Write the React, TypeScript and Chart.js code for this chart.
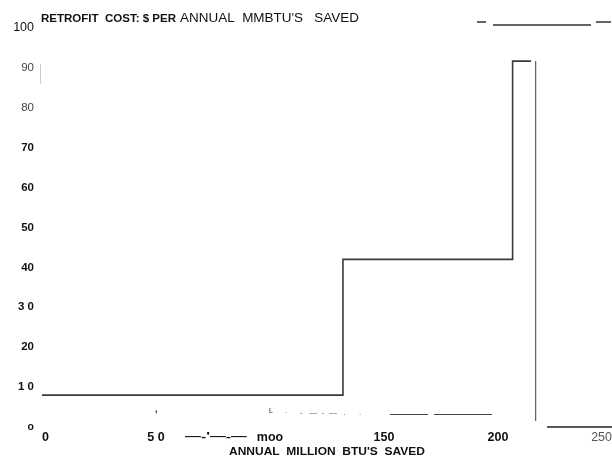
import React, { useEffect, useRef } from "react";
import { Chart, registerables } from "chart.js";

Chart.register(...registerables);

// ---- data ----
const stepSaved = [0, 132, 206.4, 214.5];
const stepCost = [8.0, 42.0, 91.7, 91.7];
const dropSaved = [216.5, 216.5];
const dropCost = [91.7, 1.5];
const tailSaved = [221.5, 250];
const tailCost = [0, 0];

const xTickValues = [0, 50, 100, 150, 200, 250];
const xTickLabels = ["0", "5 0", "moo", "150", "200", "250"];
const yTickValues = [0, 10, 20, 30, 40, 50, 60, 70, 80, 90, 100];
const yTickLabels = ["o", "1 0", "20", "3 0", "40", "50", "60", "70", "80", "90", "100"];

const titleBold = "RETROFIT  COST: $ PER";
const titleRest = "ANNUAL  MMBTU'S   SAVED";
const xAxisTitle = "ANNUAL  MILLION  BTU'S  SAVED";
const scanNoise = "\u2014-'\u2014-\u2014";

const FONT = "'Liberation Sans', Arial, sans-serif";

function drawStretched(
  ctx: CanvasRenderingContext2D,
  text: string,
  font: string,
  x: number,
  y: number,
  width: number,
  color: string
) {
  ctx.save();
  ctx.font = font;
  ctx.fillStyle = color;
  ctx.textBaseline = "middle";
  ctx.textAlign = "left";
  const w = ctx.measureText(text).width;
  ctx.translate(x, y);
  ctx.scale(width / w, 1);
  ctx.fillText(text, 0, 0);
  ctx.restore();
}

const decorPlugin = {
  id: "decor",
  afterDraw(chart: any) {
    const ctx: CanvasRenderingContext2D = chart.ctx;
    // title
    drawStretched(ctx, titleBold, `bold 10.5px ${FONT}`, 41, 19, 135, "#111");
    drawStretched(ctx, titleRest, `13px ${FONT}`, 180, 18, 179, "#111");
    // x axis title
    drawStretched(ctx, xAxisTitle, `bold 10.5px ${FONT}`, 229, 452, 196, "#111");
    // scan noise near the axis labels
    drawStretched(ctx, scanNoise, `bold 11px ${FONT}`, 185, 437, 62, "#111");
    ctx.save();
    ctx.fillStyle = "#222";
    ctx.font = `bold 9px ${FONT}`;
    ctx.textBaseline = "middle";
    ctx.fillText(",", 155, 410);
    ctx.font = `7px ${FONT}`;
    ctx.fillText("L", 269, 411);
    ctx.fillStyle = "#555";
    ctx.font = `8px ${FONT}`;
    ctx.fillText(".", 285, 411);
    ctx.fillText("-   \u2014  -  \u2014   .      .", 300, 413);
    ctx.restore();
    ctx.save();
    ctx.strokeStyle = "#444";
    ctx.lineWidth = 1;
    ctx.beginPath();
    ctx.moveTo(390, 414.5);
    ctx.lineTo(428, 414.5);
    ctx.moveTo(434, 414.5);
    ctx.lineTo(492, 414.5);
    ctx.stroke();
    // top-right stray marks
    ctx.strokeStyle = "#333";
    ctx.lineWidth = 1.3;
    ctx.beginPath();
    ctx.moveTo(477, 22);
    ctx.lineTo(486, 22);
    ctx.moveTo(493, 25);
    ctx.lineTo(591, 25);
    ctx.moveTo(596, 22);
    ctx.lineTo(611, 22);
    ctx.stroke();
    // faint mark near 90
    ctx.strokeStyle = "#ccc";
    ctx.lineWidth = 1;
    ctx.beginPath();
    ctx.moveTo(40.5, 64);
    ctx.lineTo(40.5, 84);
    ctx.stroke();
    ctx.restore();
  },
};

export default function App() {
  const ref = useRef<HTMLCanvasElement>(null);

  useEffect(() => {
    document.body.style.margin = "0";
    const canvas = ref.current!;
    const chart = new Chart(canvas, {
      type: "line",
      data: {
        datasets: [
          {
            data: stepSaved.map((x, i) => ({ x, y: stepCost[i] })),
            stepped: "before",
            borderColor: "#3a3a3a",
            borderWidth: 1.6,
            pointRadius: 0,
            fill: false,
            clip: false as any,
          },
          {
            data: dropSaved.map((x, i) => ({ x, y: dropCost[i] })),
            borderColor: "#666",
            borderWidth: 1.3,
            pointRadius: 0,
            fill: false,
            clip: false as any,
          },
          {
            data: tailSaved.map((x, i) => ({ x, y: tailCost[i] })),
            borderColor: "#222",
            borderWidth: 1.5,
            pointRadius: 0,
            fill: false,
            clip: false as any,
          },
        ],
      },
      options: {
        responsive: false,
        animation: false,
        layout: { padding: { top: 28, left: 0, right: 0, bottom: 0 } },
        plugins: {
          legend: { display: false },
          tooltip: { enabled: false },
          title: { display: false },
        },
        scales: {
          x: {
            type: "linear",
            min: 0,
            max: 250,
            grid: { display: false, drawTicks: false },
            border: { display: false },
            afterBuildTicks: (s: any) => {
              s.ticks = xTickValues.map((v) => ({ value: v }));
            },
            afterFit: (s: any) => {
              s.height = 30;
              s.paddingLeft = 0;
              s.paddingRight = 0;
            },
            ticks: {
              autoSkip: false,
              maxRotation: 0,
              align: "inner",
              padding: 3,
              callback: (v: any) => {
                const i = xTickValues.indexOf(Number(v));
                return i >= 0 ? xTickLabels[i] : "";
              },
              font: (c: any) =>
                c.tick && c.tick.value === 250
                  ? { family: FONT, size: 12.5, weight: "normal" }
                  : { family: FONT, size: 12.5, weight: "bold" },
              color: (c: any) => (c.tick && c.tick.value === 250 ? "#555" : "#111"),
            },
          },
          y: {
            type: "linear",
            min: 0,
            max: 100,
            grid: { display: false, drawTicks: false },
            border: { display: false },
            afterBuildTicks: (s: any) => {
              s.ticks = yTickValues.map((v) => ({ value: v }));
            },
            afterFit: (s: any) => {
              s.width = 42;
            },
            ticks: {
              autoSkip: false,
              padding: 8,
              callback: (v: any) => {
                const i = yTickValues.indexOf(Number(v));
                return i >= 0 ? yTickLabels[i] : "";
              },
              font: (c: any) => {
                const v = c.tick ? c.tick.value : -1;
                if (v === 100) return { family: FONT, size: 12.5, weight: "normal" };
                if (v === 90 || v === 80) return { family: FONT, size: 11.5, weight: "normal" };
                if (v === 0) return { family: FONT, size: 10.5, weight: "bold" };
                return { family: FONT, size: 11.5, weight: "bold" };
              },
              color: (c: any) => {
                const v = c.tick ? c.tick.value : -1;
                return v === 90 || v === 80 ? "#444" : "#111";
              },
            },
          },
        },
      },
      plugins: [decorPlugin],
    });
    return () => chart.destroy();
  }, []);

  return (
    <div style={{ position: "absolute", left: 0, top: 0, width: 612, height: 457, background: "#fff" }}>
      <canvas ref={ref} width={612} height={457} style={{ display: "block" }} />
    </div>
  );
}
